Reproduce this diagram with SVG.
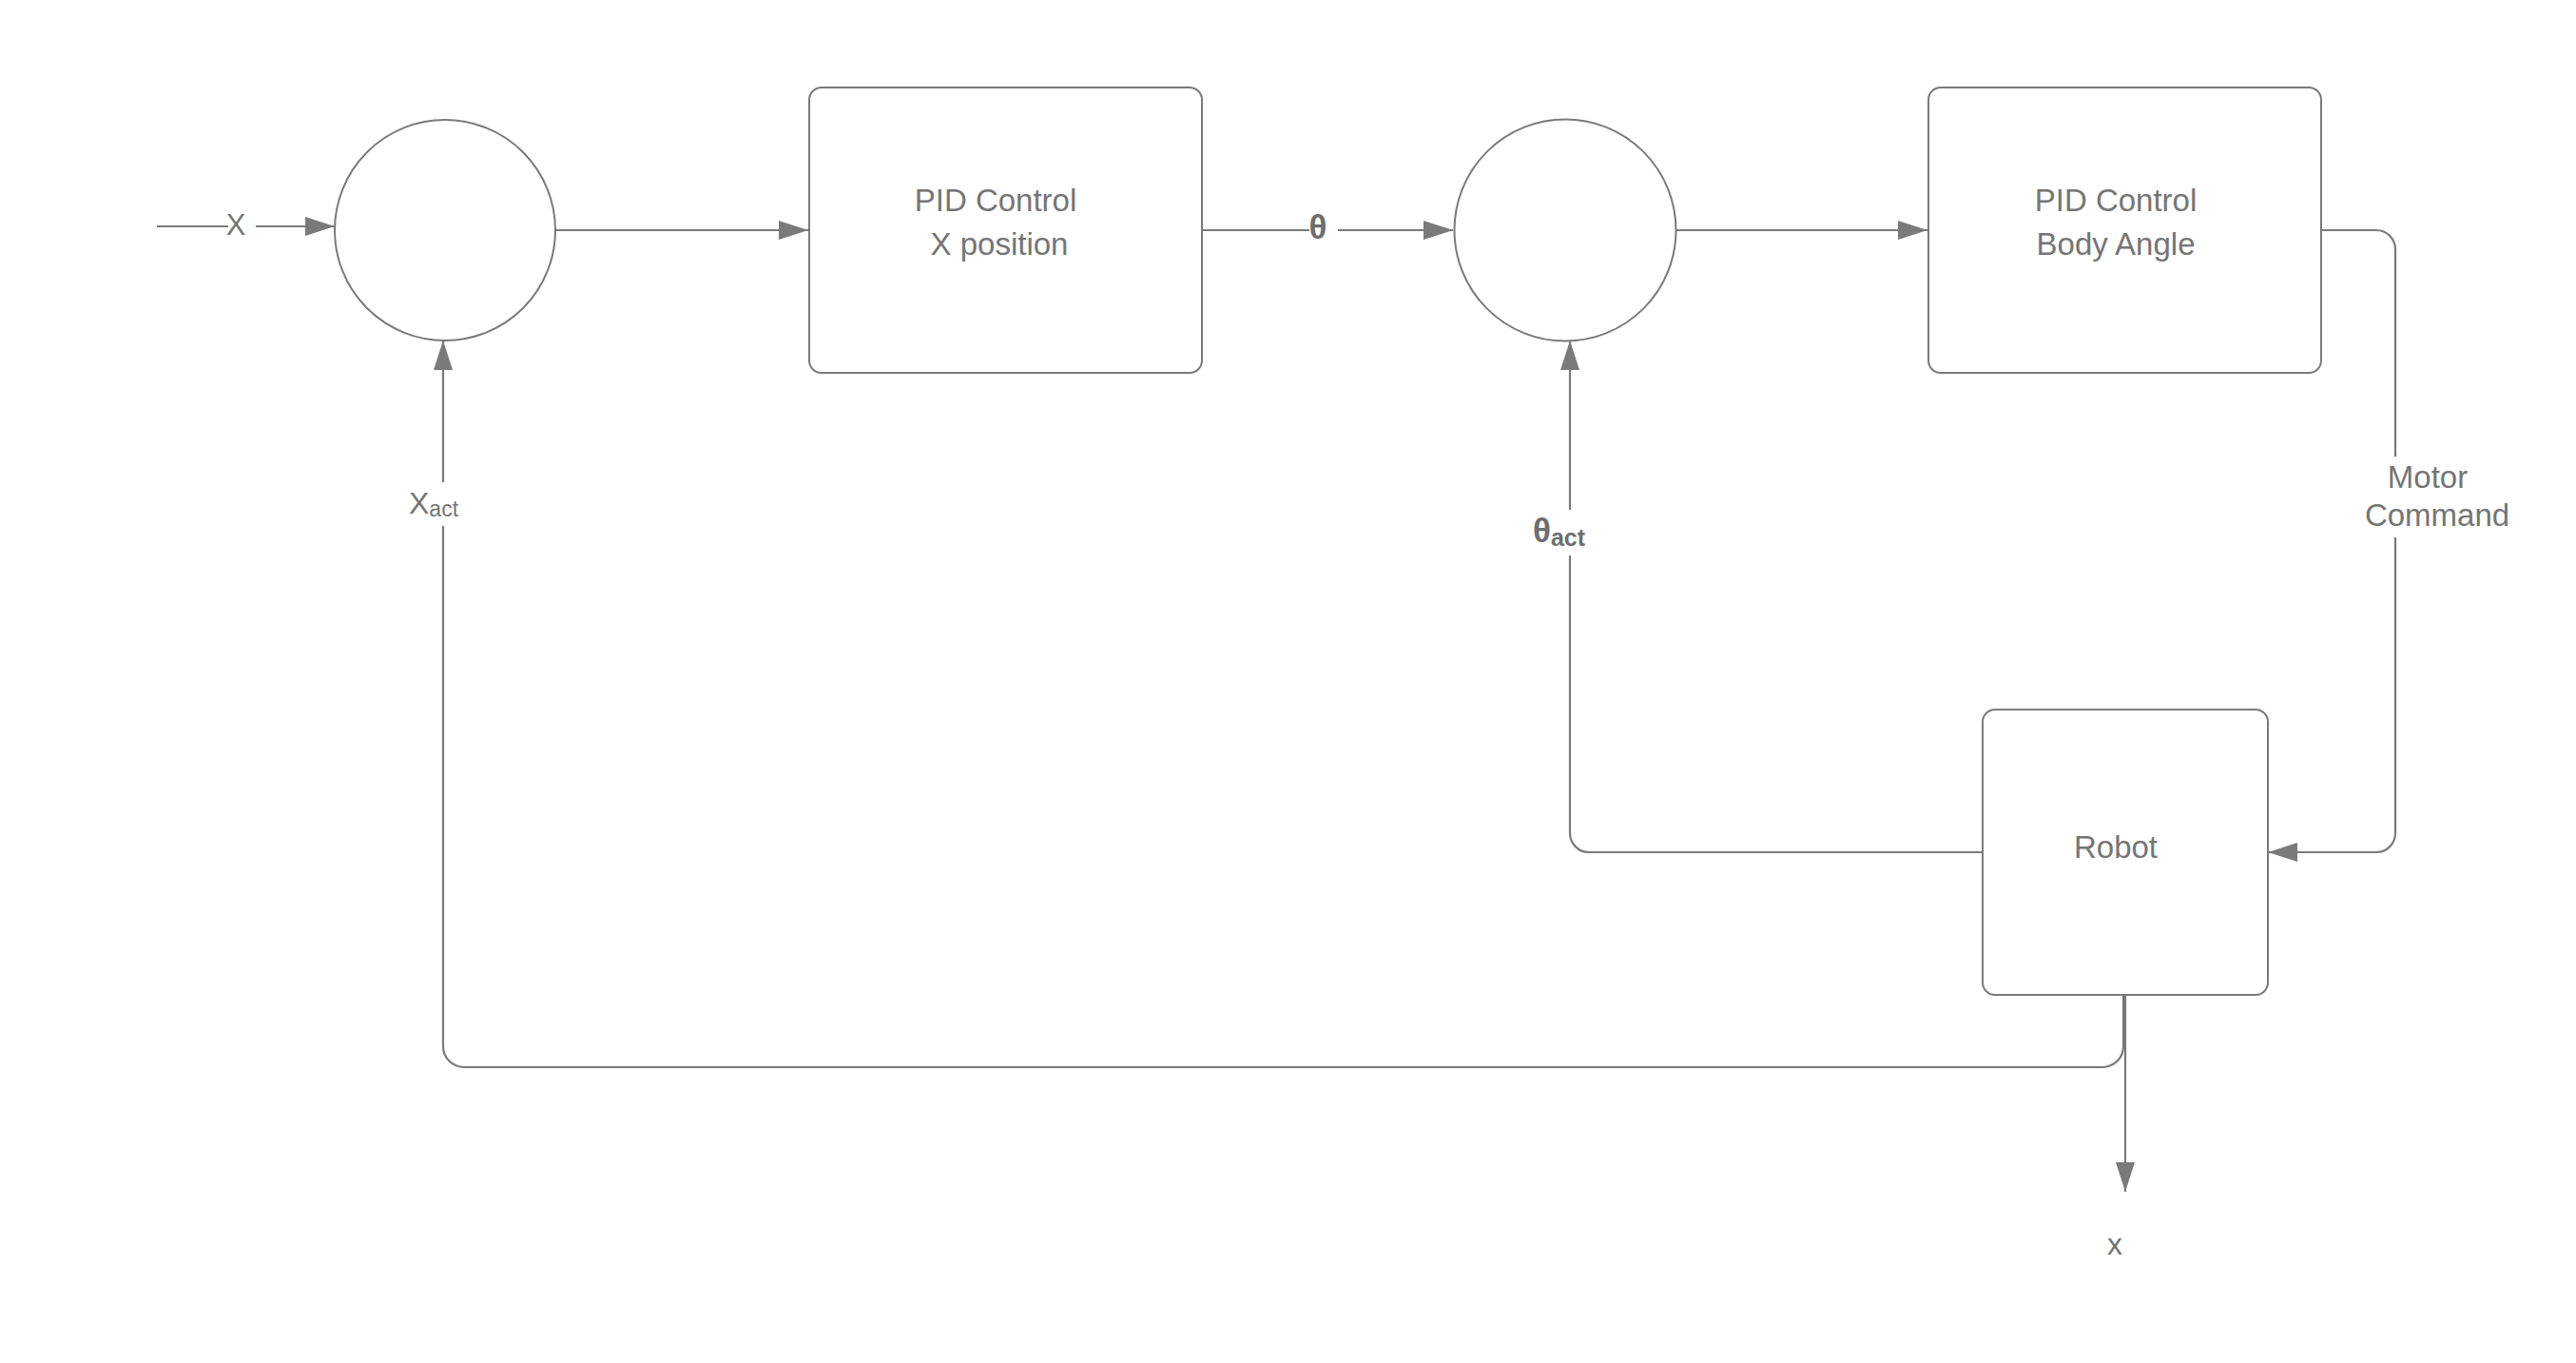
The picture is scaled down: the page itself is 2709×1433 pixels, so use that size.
<svg xmlns="http://www.w3.org/2000/svg" width="2709" height="1433" viewBox="0 0 2709 1433">
<defs>
<marker id="arr" markerUnits="userSpaceOnUse" markerWidth="31" markerHeight="20" refX="31" refY="10" orient="auto">
<path d="M0,0 L31,10 L0,20 z" fill="#7a7a7a"/>
</marker>
<style>
.shape{fill:#ffffff;stroke:#7a7a7a;stroke-width:2}
.ln{fill:none;stroke:#7a7a7a;stroke-width:2.2}
.t{font-family:"Liberation Sans",Arial,sans-serif;font-size:33px;fill:#757575;text-anchor:middle}
.b{font-family:"Liberation Sans",Arial,sans-serif;font-weight:bold;fill:#6e6e6e}
.s{font-family:"Liberation Sans",Arial,sans-serif;fill:#757575}
</style>
</defs>
<rect width="2709" height="1433" fill="#ffffff"/>

<g id="connectors">
<line class="ln" x1="165" y1="238" x2="240" y2="238"/>
<line class="ln" x1="269" y1="238" x2="352" y2="238" marker-end="url(#arr)"/>
<line class="ln" x1="584" y1="242" x2="850" y2="242" marker-end="url(#arr)"/>
<line class="ln" x1="1264" y1="242" x2="1377" y2="242"/>
<line class="ln" x1="1407" y1="242" x2="1528" y2="242" marker-end="url(#arr)"/>
<line class="ln" x1="1762" y1="242" x2="2027" y2="242" marker-end="url(#arr)"/>
<path class="ln" d="M2441,242 H2499 A20,20 0 0 1 2519,262 V480"/>
<path class="ln" d="M2519,565 V876 A20,20 0 0 1 2499,896 H2385" marker-end="url(#arr)"/>
<path class="ln" d="M2085,896 H1671 A20,20 0 0 1 1651,876 V584"/>
<line class="ln" x1="1651" y1="536" x2="1651" y2="358" marker-end="url(#arr)"/>
<path class="ln" d="M2233,1046 V1100 A22,22 0 0 1 2211,1122 H488 A22,22 0 0 1 466,1100 V553"/>
<line class="ln" x1="466" y1="507" x2="466" y2="358" marker-end="url(#arr)"/>
<line class="ln" x1="2235" y1="1046" x2="2235" y2="1253" marker-end="url(#arr)"/>
<text class="t" x="248" y="247" style="font-size:31px">X</text>
<text class="b" x="1386" y="251" text-anchor="middle" style="font-size:35px">θ</text>
<text class="s" x="430" y="540" style="font-size:32px">X<tspan style="font-size:23px" dy="3">act</tspan></text>
<text class="b" x="1612" y="570" style="font-size:35px">θ<tspan style="font-size:25px" dy="4">act</tspan></text>
<text class="t" x="2553" y="513">Motor</text>
<text class="t" x="2563" y="553">Command</text>
<text class="t" x="2224" y="1319" style="font-size:32px">x</text>
</g>

<g id="sum1">
<circle class="shape" cx="468" cy="242" r="116"/>
</g>
<g id="pid-x">
<rect class="shape" x="851" y="92" width="413" height="300" rx="13"/>
<text class="t" x="1047" y="222">PID Control</text>
<text class="t" x="1051" y="268">X position</text>
</g>
<g id="sum2">
<circle class="shape" cx="1646" cy="242" r="116.5"/>
</g>
<g id="pid-angle">
<rect class="shape" x="2028" y="92" width="413" height="300" rx="13"/>
<text class="t" x="2225" y="222">PID Control</text>
<text class="t" x="2225" y="268">Body Angle</text>
</g>
<g id="robot">
<rect class="shape" x="2085" y="746" width="300" height="300" rx="13"/>
<text class="t" x="2225" y="902">Robot</text>
</g>
</svg>
